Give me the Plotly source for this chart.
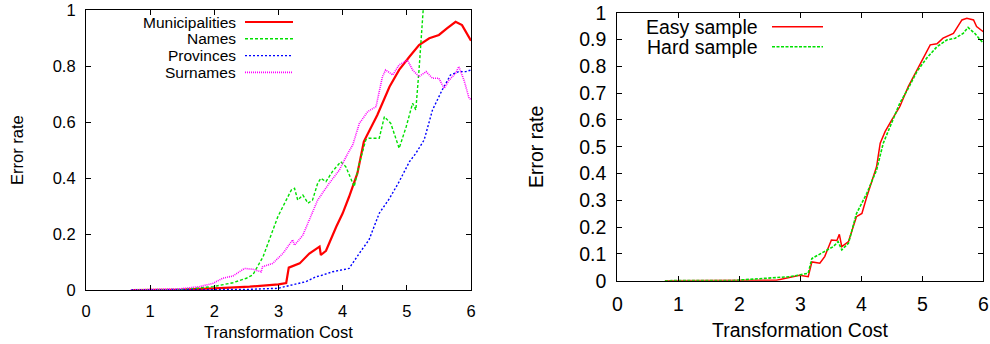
import plotly.graph_objects as go

W, H = 990, 344

# ---------------- data (left panel) ----------------
muni_x = [0.7, 1.5, 2.0, 2.55, 3.0, 3.12, 3.16, 3.33, 3.48, 3.64, 3.66, 3.74, 3.90, 4.0, 4.10, 4.23, 4.33,
          4.54, 4.73, 4.88, 5.04, 5.19, 5.35, 5.50, 5.63, 5.76, 5.86, 5.97, 6.0]
muni_y = [0, 0.001, 0.006, 0.012, 0.02, 0.025, 0.08, 0.095, 0.13, 0.155, 0.125, 0.14, 0.226, 0.274, 0.333,
          0.417, 0.53, 0.625, 0.726, 0.786, 0.833, 0.875, 0.899, 0.911, 0.935, 0.958, 0.946, 0.899, 0.89]

names_x = [0.7, 1.5, 1.98, 2.29, 2.50, 2.60, 2.76, 2.86, 2.99, 3.12, 3.20, 3.25, 3.30, 3.38, 3.46, 3.53, 3.61,
           3.66, 3.74, 3.84, 3.97, 4.05, 4.18, 4.26, 4.36, 4.41, 4.57, 4.65, 4.75, 4.88, 4.99, 5.09, 5.14,
           5.19, 5.24, 5.30]
names_y = [0, 0.002, 0.012, 0.026, 0.042, 0.054, 0.119, 0.179, 0.262, 0.321, 0.357, 0.363, 0.321, 0.339,
           0.31, 0.321, 0.381, 0.399, 0.387, 0.423, 0.458, 0.44, 0.369, 0.452, 0.536, 0.542, 0.542, 0.619,
           0.595, 0.506, 0.583, 0.667, 0.643, 0.786, 1.0, 1.15]

prov_x = [0.7, 1.5, 2.5, 2.99, 3.22, 3.33, 3.43, 3.59, 3.64, 3.84, 4.10, 4.26, 4.41, 4.57, 4.73, 4.88, 5.04,
          5.14, 5.27, 5.40, 5.55, 5.68, 5.81, 5.92, 6.0]
prov_y = [0, 0.0, 0.002, 0.006, 0.018, 0.024, 0.03, 0.048, 0.05, 0.065, 0.077, 0.131, 0.179, 0.274, 0.327,
          0.387, 0.458, 0.488, 0.536, 0.643, 0.714, 0.768, 0.78, 0.78, 0.786]

surn_x = [0.7, 1.46, 1.77, 1.98, 2.13, 2.29, 2.47, 2.60, 2.73, 2.75, 2.91, 3.07, 3.22, 3.25, 3.38, 3.48, 3.61,
          3.79, 3.95, 4.08, 4.16, 4.26, 4.39, 4.52, 4.62, 4.67, 4.78, 4.88, 5.01, 5.09, 5.19, 5.30, 5.40,
          5.50, 5.58, 5.66, 5.76, 5.81, 5.89, 5.97, 6.0]
surn_y = [0, 0.004, 0.012, 0.024, 0.042, 0.05, 0.077, 0.074, 0.065, 0.083, 0.095, 0.131, 0.179, 0.16, 0.196,
          0.25, 0.321, 0.381, 0.429, 0.488, 0.52, 0.595, 0.637, 0.655, 0.762, 0.786, 0.768, 0.804, 0.821,
          0.786, 0.762, 0.78, 0.756, 0.756, 0.72, 0.75, 0.774, 0.798, 0.75, 0.685, 0.68]

# ---------------- data (right panel) ----------------
easy_x = [0.78, 1.9, 2.61, 2.99, 3.13, 3.19, 3.32, 3.40, 3.51, 3.60, 3.64, 3.68, 3.79, 3.92, 4.01, 4.09, 4.25,
          4.31, 4.39, 4.50, 4.63, 4.77, 4.91, 5.02, 5.13, 5.24, 5.34, 5.51, 5.65, 5.73, 5.84, 5.89, 6.0]
easy_y = [0, 0, 0.002, 0.02, 0.015, 0.07, 0.065, 0.09, 0.152, 0.15, 0.173, 0.127, 0.146, 0.239, 0.251,
          0.313, 0.425, 0.513, 0.556, 0.6, 0.649, 0.724, 0.786, 0.83, 0.88, 0.884, 0.905, 0.923, 0.973,
          0.979, 0.973, 0.948, 0.929]

hard_x = [0.78, 1.9, 2.17, 2.56, 2.83, 3.0, 3.13, 3.19, 3.40, 3.54, 3.62, 3.68, 3.79, 3.92, 4.09, 4.25, 4.36,
          4.50, 4.63, 4.77, 4.91, 5.07, 5.24, 5.40, 5.54, 5.67, 5.75, 5.86, 6.0]
hard_y = [0, 0.001, 0.005, 0.01, 0.015, 0.022, 0.028, 0.083, 0.108, 0.127, 0.146, 0.115, 0.14, 0.25, 0.326,
          0.413, 0.513, 0.593, 0.662, 0.718, 0.78, 0.83, 0.873, 0.898, 0.905, 0.923, 0.945, 0.923, 0.886]

left_yticks = [0, 0.2, 0.4, 0.6, 0.8, 1]
left_yticklabels = ["0", "0.2", "0.4", "0.6", "0.8", "1"]
right_yticks = [0, 0.1, 0.2, 0.3, 0.4, 0.5, 0.6, 0.7, 0.8, 0.9, 1]
right_yticklabels = ["0", "0.1", "0.2", "0.3", "0.4", "0.5", "0.6", "0.7", "0.8", "0.9", "1"]
xticks = [0, 1, 2, 3, 4, 5, 6]

left_series = [
    ("Municipalities", muni_x, muni_y, "#ff0000", "solid", 2.2),
    ("Names", names_x, names_y, "#00e000", "3px,2px", 1.4),
    ("Provinces", prov_x, prov_y, "#0000ff", "2px,2px", 1.4),
    ("Surnames", surn_x, surn_y, "#ff00ff", "1px,1px", 1.6),
]
right_series = [
    ("Easy sample", easy_x, easy_y, "#ff0000", "solid", 1.5),
    ("Hard sample", hard_x, hard_y, "#00e000", "3px,1.5px", 1.6),
]

FONT = "Liberation Sans, Arial, sans-serif"
FL, FR = 16.5, 19.5
FLEG = 15.5

def px(x):
    return x / W

def py(y):
    return 1 - y / H

fig = go.Figure()
for name, xs, ys, c, d, w in left_series:
    fig.add_trace(go.Scatter(x=xs, y=ys, mode="lines", name=name, xaxis="x", yaxis="y",
                             line=dict(color=c, dash=d, width=w), showlegend=False))
for name, xs, ys, c, d, w in right_series:
    fig.add_trace(go.Scatter(x=xs, y=ys, mode="lines", name=name, xaxis="x2", yaxis="y2",
                             line=dict(color=c, dash=d, width=w), showlegend=False))

ax_common = dict(showline=True, linecolor="black", linewidth=1.2, mirror="ticks", ticks="inside",
                 ticklen=5, tickcolor="black", tickwidth=1, showgrid=False, zeroline=False,
                 automargin=False, fixedrange=True)

fig.update_layout(
    width=W, height=H, margin=dict(l=0, r=0, t=0, b=0),
    paper_bgcolor="white", plot_bgcolor="white",
    font=dict(family=FONT, color="black"),
    xaxis=dict(domain=[px(86), px(471)], range=[0, 6], tickvals=xticks, anchor="y",
               tickfont=dict(size=FL), ticklabelstandoff=6, **ax_common),
    yaxis=dict(domain=[py(290), py(10)], range=[0, 1], tickvals=left_yticks, ticktext=left_yticklabels,
               anchor="x", tickfont=dict(size=FL), ticklabelstandoff=6, **ax_common),
    xaxis2=dict(domain=[px(617.3), px(983.3)], range=[0, 6], tickvals=xticks, anchor="y2",
                tickfont=dict(size=FR), ticklabelstandoff=6, **ax_common),
    yaxis2=dict(domain=[py(280.7), py(12.7)], range=[0, 1], tickvals=right_yticks,
                ticktext=right_yticklabels, anchor="x2", tickfont=dict(size=FR), ticklabelstandoff=6,
                **ax_common),
)

annotations = []
shapes = []

def text(x, y, s, size, anchor="center", angle=0):
    annotations.append(dict(x=px(x), y=py(y), xref="paper", yref="paper", text=s, showarrow=False,
                            xanchor=anchor, yanchor="middle", textangle=angle, borderpad=0,
                            font=dict(size=size, family=FONT, color="black")))

# axis titles
text(17, 150, "Error rate", FL, angle=-90)
text(278, 332, "Transformation Cost", FL)
text(536, 147, "Error rate", FR, angle=-90)
text(800, 330, "Transformation Cost", FR)

# custom gnuplot-style keys
for i, (name, xs, ys, c, d, w) in enumerate(left_series):
    yy = 22 + i * 16.8
    text(237, yy, name, FLEG, anchor="right")
    shapes.append(dict(type="line", xref="paper", yref="paper", x0=px(245), x1=px(293), y0=py(yy), y1=py(yy),
                       line=dict(color=c, dash=d, width=w)))
for i, (name, xs, ys, c, d, w) in enumerate(right_series):
    yy = 26.7 + i * 20
    text(759, yy, name, FR, anchor="right")
    shapes.append(dict(type="line", xref="paper", yref="paper", x0=px(772), x1=px(823), y0=py(yy), y1=py(yy),
                       line=dict(color=c, dash=d, width=w)))

fig.update_layout(annotations=annotations, shapes=shapes)
fig.write_html("out.html", config={"displayModeBar": False},
               post_script="document.body.style.margin='0';document.body.style.overflow='hidden';")
